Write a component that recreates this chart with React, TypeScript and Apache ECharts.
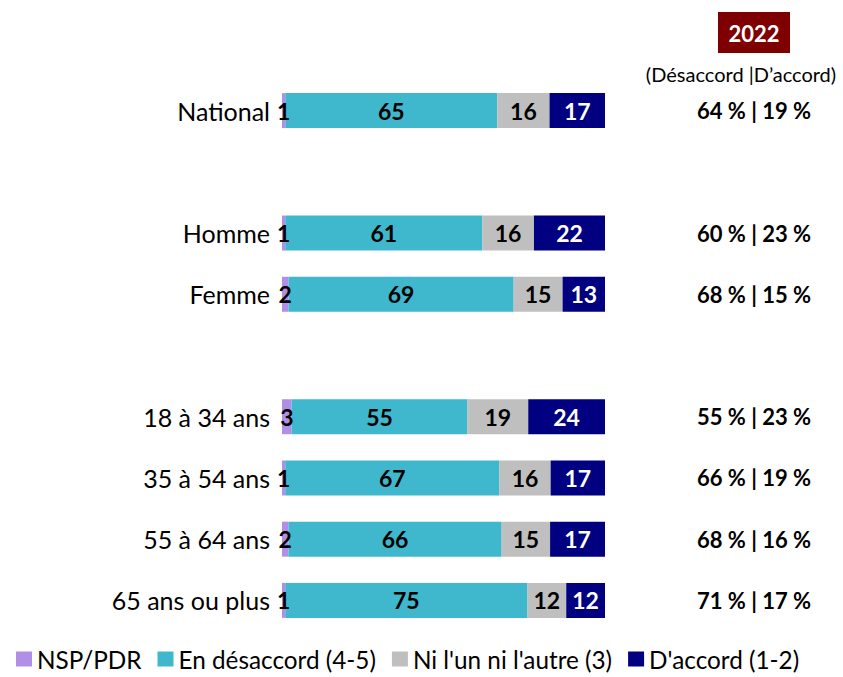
import React, { useEffect, useRef } from "react";
import * as echarts from "echarts";

const categories = ["National", "", "Homme", "Femme", "", "18 à 34 ans", "35 à 54 ans", "55 à 64 ans", "65 ans ou plus"];
const nspPdr = [1, null, 1, 2, null, 3, 1, 2, 1];
const desaccord = [65, null, 61, 69, null, 55, 67, 66, 75];
const niUnNiAutre = [16, null, 16, 15, null, 19, 16, 15, 12];
const daccord = [17, null, 22, 13, null, 24, 17, 17, 12];
const summary2022 = ["64 % | 19 %", "", "60 % | 23 %", "68 % | 15 %", "", "55 % | 23 %", "66 % | 19 %", "68 % | 16 %", "71 % | 17 %"];
const seriesNames = ["NSP/PDR", "En désaccord (4-5)", "Ni l'un ni l'autre (3)", "D'accord (1-2)"];
const colors = ["#B18FE8", "#3FB7CD", "#BFBFBF", "#000080"];
const labelColors = ["#000", "#000", "#000", "#fff"];

const FONT = "Lato";

export default function App() {
  const ref = useRef<HTMLDivElement>(null);
  useEffect(() => {
    const chart = echarts.init(ref.current!, undefined, { renderer: "svg" });
    const all = [nspPdr, desaccord, niUnNiAutre, daccord];
    const totals = categories.map((_, i) =>
      all.reduce((s, arr) => s + (arr[i] == null ? 0 : (arr[i] as number)), 0)
    );
    const series = all.map((arr, k) => ({
      name: seriesNames[k],
      type: "bar",
      stack: "total",
      barWidth: 35,
      itemStyle: { color: colors[k] },
      label: {
        show: true,
        position: "inside",
        fontFamily: FONT,
        fontWeight: "bold",
        fontSize: 23,
        color: labelColors[k],
        formatter: (p: any) => String(arr[p.dataIndex]),
      },
      data: arr.map((v, i) => (v == null ? "-" : (v / totals[i]) * 100)),
    }));
    chart.setOption({
      animation: false,
      textStyle: { fontFamily: FONT },
      grid: { left: 282, right: 238, top: 80, height: 551, containLabel: false },
      xAxis: { type: "value", min: 0, max: 100, show: false },
      yAxis: [
        {
          type: "category",
          data: categories,
          inverse: true,
          axisLine: { show: false },
          axisTick: { show: false },
          axisLabel: { color: "#000", fontSize: 25, fontFamily: FONT, margin: 12 },
        },
        {
          type: "category",
          data: summary2022,
          inverse: true,
          position: "right",
          axisLine: { show: false },
          axisTick: { show: false },
          axisLabel: {
            color: "#000",
            fontSize: 22,
            fontWeight: "bold",
            fontFamily: FONT,
            margin: 149,
            align: "center",
          },
        },
      ],
      legend: {
        bottom: 1,
        left: 11,
        itemWidth: 16,
        itemHeight: 15,
        itemGap: 16,
        icon: "rect",
        textStyle: { fontSize: 24.3, color: "#000", fontFamily: FONT },
        data: seriesNames,
      },
      graphic: [
        { type: "rect", shape: { x: 718, y: 12, width: 72, height: 41 }, style: { fill: "#7F0000" } },
        {
          type: "text",
          x: 754,
          y: 33,
          style: { text: "2022", fill: "#fff", font: `bold 22px ${FONT}`, align: "center", verticalAlign: "middle" },
        },
        {
          type: "text",
          x: 741,
          y: 74,
          style: { text: "(Désaccord |D’accord)", fill: "#000", font: `20px ${FONT}`, align: "center", verticalAlign: "middle" },
        },
      ],
      series,
    });
    return () => chart.dispose();
  }, []);
  return <div ref={ref} style={{ width: 843, height: 677, position: "absolute", left: 0, top: 0 }} />;
}
